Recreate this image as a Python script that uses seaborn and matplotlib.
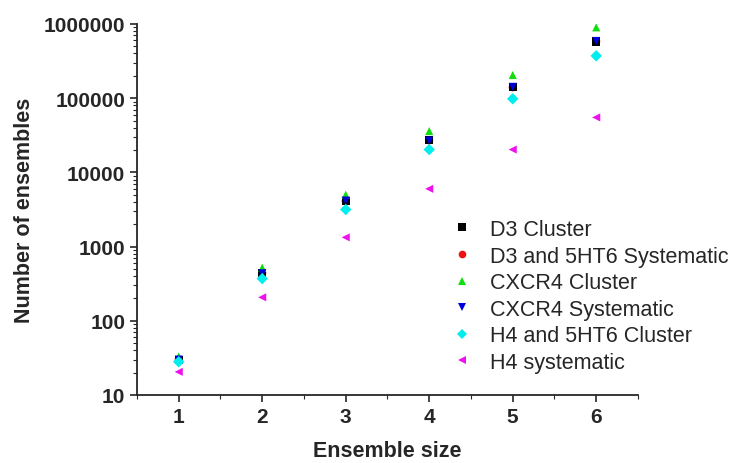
import numpy as np
import pandas as pd
import matplotlib
matplotlib.use('Agg')
import matplotlib.pyplot as plt
from matplotlib.ticker import MultipleLocator, LogLocator, FixedFormatter, FixedLocator
import seaborn as sns

# Values (log scale)
sizes = [1, 2, 3, 4, 5, 6]
d3_cluster = [30, 440, 4100, 27000, 140000, 580000]
d3_5ht6_systematic = [30, 440, 4100, 27000, 140000, 580000]
cxcr4_cluster = [33, 520, 5000, 36000, 205000, 900000]
cxcr4_systematic = [30, 437, 4170, 26800, 142000, 590000]
h4_5ht6_cluster = [28, 370, 3160, 20300, 98000, 372000]
h4_systematic = [20.5, 207, 1330, 6000, 20300, 55000]

names = ['D3 Cluster', 'D3 and 5HT6 Systematic', 'CXCR4 Cluster',
         'CXCR4 Systematic', 'H4 and 5HT6 Cluster', 'H4 systematic']
series = [d3_cluster, d3_5ht6_systematic, cxcr4_cluster,
          cxcr4_systematic, h4_5ht6_cluster, h4_systematic]

# draw order: the hidden red points go underneath the black squares
draw_order = [1, 0, 2, 3, 4, 5]
df = pd.DataFrame({
    'size': np.tile(sizes, len(names)),
    'count': np.concatenate([series[i] for i in draw_order]),
    'series': np.repeat([names[i] for i in draw_order], len(sizes)),
})

colors = ['#000000', '#ee1111', '#11dd11', '#0000dd', '#00eeee', '#ee11ee']
markers = ['s', 'o', '^', 'v', 'D', '<']

sns.set_style('ticks')
plt.rcParams['font.family'] = ['Liberation Sans', 'DejaVu Sans']

fig = plt.figure(figsize=(7.36, 4.64), dpi=100)
ax = fig.add_axes([0.1861, 0.1466, 0.6807, 0.7996])

sns.scatterplot(data=df, x='size', y='count', hue='series', style='series',
                palette=dict(zip(names, colors)), markers=dict(zip(names, markers)),
                hue_order=names, style_order=names, s=34, linewidth=0, ax=ax)

ax.set_yscale('log')
ax.set_ylim(10, 1000000)
ax.set_xlim(0.5, 6.5)
ax.xaxis.set_major_locator(MultipleLocator(1))
ax.xaxis.set_minor_locator(MultipleLocator(0.5))
yt = [10, 100, 1000, 10000, 100000, 1000000]
ax.yaxis.set_major_locator(FixedLocator(yt))
ax.yaxis.set_major_formatter(FixedFormatter([str(v) for v in yt]))
ax.yaxis.set_minor_locator(LogLocator(base=10, subs=np.arange(2, 10), numticks=20))

for s in ['top', 'right']:
    ax.spines[s].set_visible(False)
for s in ['left', 'bottom']:
    ax.spines[s].set_linewidth(1.3)
ax.tick_params(which='major', direction='out', length=5, width=1.2, labelsize=15)
ax.tick_params(which='minor', direction='out', length=3, width=0.8)
for lab in ax.get_xticklabels() + ax.get_yticklabels():
    lab.set_fontweight('bold')

ax.set_xlabel('Ensemble size', fontsize=15.5, fontweight='bold', labelpad=10)
ax.set_ylabel('Number of ensembles', fontsize=15.5, fontweight='bold', labelpad=6)

leg = ax.legend(loc='center left', bbox_to_anchor=(0.613, 0.36),
                bbox_transform=fig.transFigure, frameon=False,
                fontsize=15.5, handlelength=1.0, handletextpad=0.8,
                labelspacing=0.26, borderpad=0, borderaxespad=0)
for h in leg.legend_handles:
    h.set_markersize(5.5)

fig.savefig('out.png', dpi=100)
